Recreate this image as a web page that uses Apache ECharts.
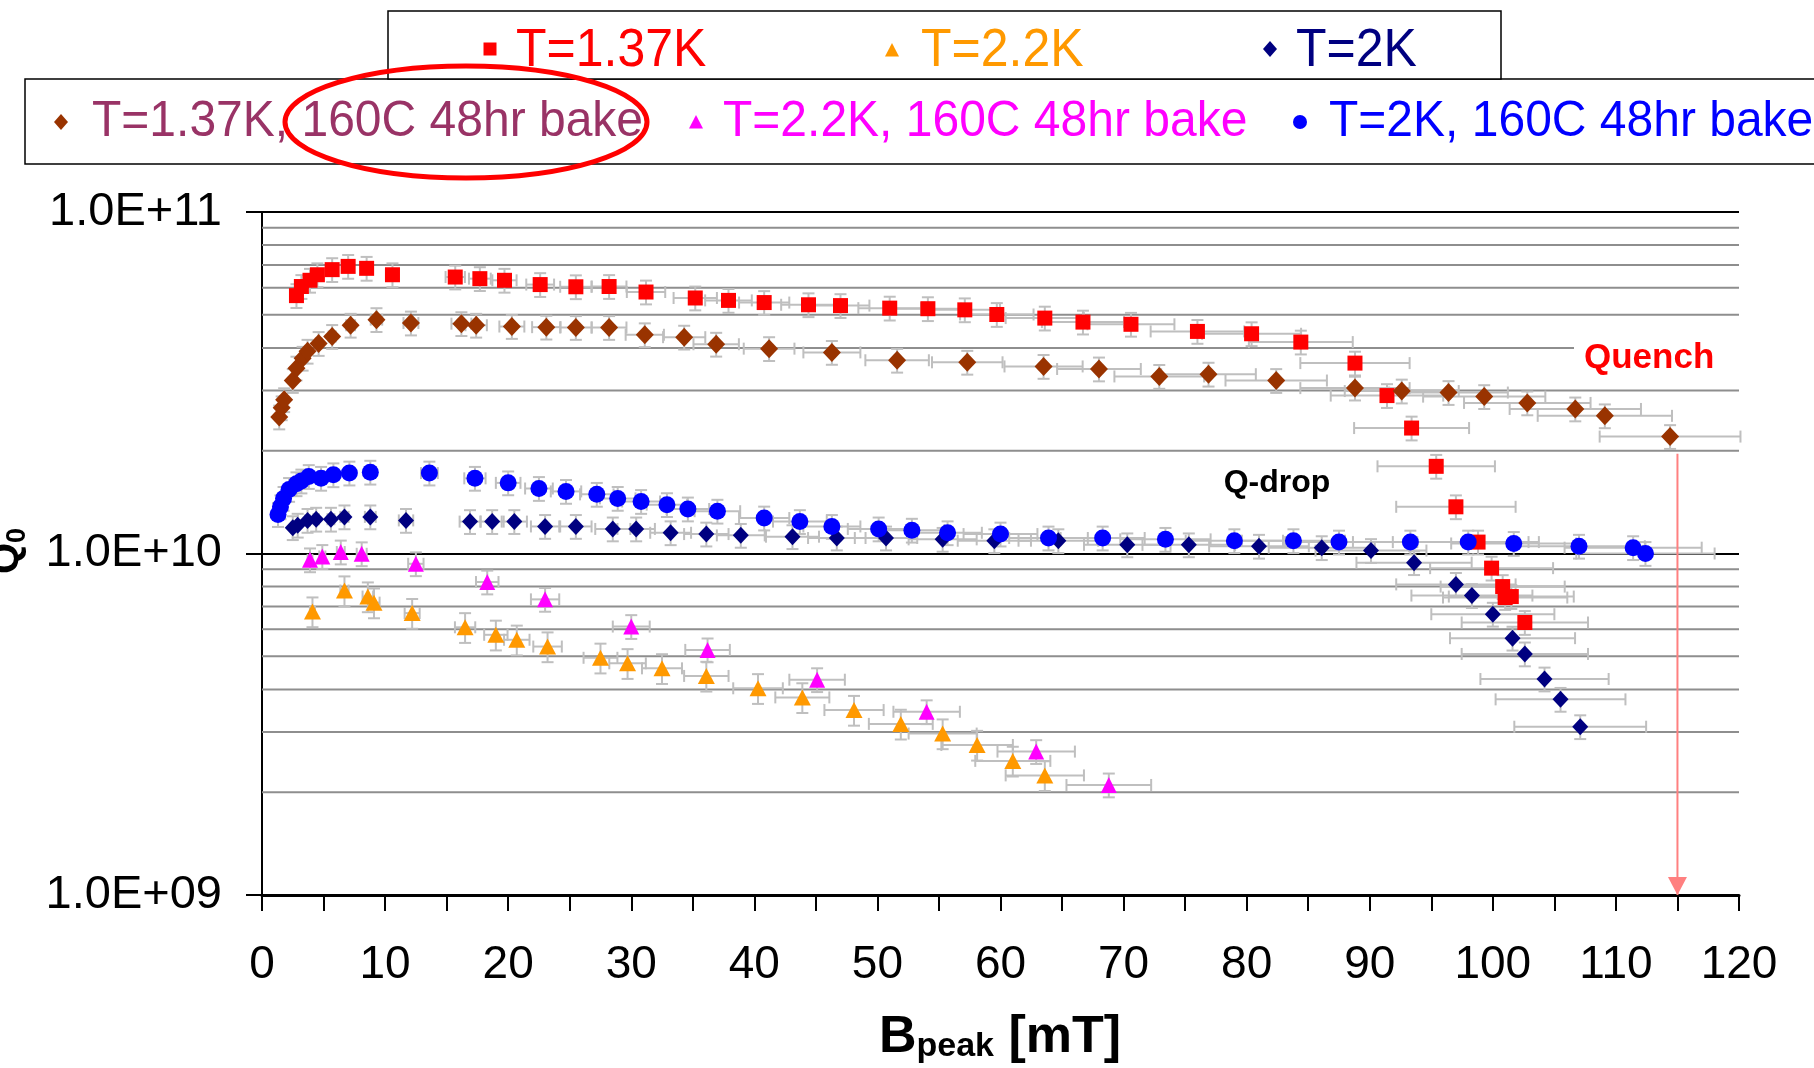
<!DOCTYPE html>
<html>
<head>
<meta charset="utf-8">
<script src="https://cdn.jsdelivr.net/npm/echarts@6/dist/echarts.min.js"></script>
<style>
html,body{margin:0;padding:0;background:#ffffff;}
#chart{width:1814px;height:1068px;}
</style>
</head>
<body>
<div id="chart"></div>
<script>
// ---------------- data ----------------
const xTickLabels = ['0','10','20','30','40','50','60','70','80','90','100','110','120'];
const yTickLabels = ['1.0E+09','1.0E+10','1.0E+11'];

// T=1.37K
const bT137 = [2.8,3.2,3.9,4.5,5.7,7.0,8.5,10.6,15.7,17.7,19.7,22.6,25.5,28.2,31.2,35.2,37.9,40.8,44.4,47.0,51.0,54.1,57.1,59.7,63.6,66.7,70.6,76.0,80.4,84.4,88.8,91.4,93.4,95.4,97.0,98.8,99.9,100.8,101.0,101.5,102.6];
const qT137 = [5.69e10,6.05e10,6.31e10,6.55e10,6.78e10,6.93e10,6.84e10,6.55e10,6.45e10,6.38e10,6.31e10,6.13e10,6.04e10,6.05e10,5.83e10,5.60e10,5.51e10,5.43e10,5.35e10,5.32e10,5.23e10,5.21e10,5.17e10,5.01e10,4.89e10,4.76e10,4.69e10,4.47e10,4.40e10,4.16e10,3.61e10,2.90e10,2.33e10,1.80e10,1.37e10,1.08e10,9.06e9,8.00e9,7.43e9,7.48e9,6.28e9];

// T=2.2K
const bT22 = [4.1,6.7,8.6,9.1,12.2,16.5,19.0,20.7,23.2,27.5,29.7,32.5,36.1,40.3,43.9,48.1,51.9,55.3,58.1,61.0,63.6];
const qT22 = [6.76e9,7.79e9,7.48e9,7.18e9,6.69e9,6.08e9,5.78e9,5.59e9,5.34e9,4.95e9,4.77e9,4.61e9,4.38e9,4.03e9,3.79e9,3.48e9,3.17e9,2.97e9,2.75e9,2.47e9,2.24e9];

// T=2K
const bT2 = [2.5,2.9,3.7,4.4,5.6,6.7,8.8,11.7,16.9,18.7,20.5,23.0,25.5,28.5,30.4,33.2,36.1,38.9,43.1,46.7,50.7,55.3,59.5,64.7,70.3,75.3,81.0,86.1,90.1,93.6,97.0,98.3,100.0,101.6,102.6,104.2,105.5,107.1];
const qT2 = [1.19e10,1.21e10,1.25e10,1.26e10,1.26e10,1.28e10,1.28e10,1.25e10,1.24e10,1.24e10,1.24e10,1.20e10,1.20e10,1.18e10,1.18e10,1.15e10,1.14e10,1.13e10,1.12e10,1.11e10,1.11e10,1.10e10,1.09e10,1.09e10,1.06e10,1.06e10,1.05e10,1.04e10,1.02e10,9.40e9,8.12e9,7.53e9,6.64e9,5.65e9,5.08e9,4.29e9,3.74e9,3.11e9];

// T=1.37K, 160C 48hr bake
const bT137b = [1.4,1.6,1.8,2.5,2.8,3.3,3.7,4.6,5.7,7.2,9.3,12.1,16.2,17.4,20.3,23.1,25.5,28.2,31.1,34.3,36.9,41.2,46.3,51.6,57.3,63.5,68.0,72.9,76.9,82.4,88.8,92.6,96.4,99.3,102.8,106.7,109.1,114.4];
const qT137b = [2.51e10,2.67e10,2.82e10,3.21e10,3.49e10,3.73e10,3.91e10,4.12e10,4.32e10,4.66e10,4.84e10,4.73e10,4.71e10,4.66e10,4.62e10,4.60e10,4.59e10,4.59e10,4.37e10,4.30e10,4.10e10,3.98e10,3.88e10,3.68e10,3.63e10,3.53e10,3.47e10,3.30e10,3.35e10,3.21e10,3.05e10,2.99e10,2.96e10,2.88e10,2.76e10,2.65e10,2.53e10,2.20e10];

// T=2.2K, 160C 48hr bake
const bT22b = [3.9,4.9,6.4,8.1,12.5,18.3,23.0,30.0,36.2,45.1,54.0,62.9,68.8];
const qT22b = [9.58e9,9.80e9,1.01e10,9.98e9,9.33e9,8.25e9,7.34e9,6.11e9,5.22e9,4.27e9,3.44e9,2.63e9,2.10e9];

// T=2K, 160C 48hr bake
const bT2b = [1.3,1.5,1.75,2.2,2.8,3.2,3.8,4.8,5.8,7.1,8.8,13.6,17.3,20.0,22.5,24.7,27.2,28.9,30.8,32.9,34.6,37.0,40.8,43.7,46.3,50.1,52.8,55.7,60.0,63.9,68.3,73.4,79.0,83.8,87.5,93.3,98.0,101.7,107.0,111.4,112.4];
const qT2b = [1.30e10,1.37e10,1.45e10,1.54e10,1.60e10,1.63e10,1.68e10,1.66e10,1.70e10,1.72e10,1.73e10,1.72e10,1.66e10,1.61e10,1.55e10,1.52e10,1.49e10,1.45e10,1.42e10,1.39e10,1.35e10,1.33e10,1.27e10,1.24e10,1.20e10,1.18e10,1.17e10,1.15e10,1.14e10,1.11e10,1.11e10,1.10e10,1.09e10,1.09e10,1.08e10,1.08e10,1.08e10,1.07e10,1.05e10,1.04e10,1.00e10];

// relative error bars
const X_ERR = 0.05;
const yErrT137 = 0.08, yErrT22 = 0.10, yErrT2 = 0.08, yErrT137b = 0.08, yErrT22b = 0.08, yErrT2b = 0.08;

// quench arrow (B = 115 mT), from Q = 1.96e10 down to the axis
const arrowB = [115, 115];
const arrowQ = [1.96e10, 1.0e9];

// minor horizontal gridlines
const minorGrid = [2e9,3e9,4e9,5e9,6e9,7e9,8e9,9e9,2e10,3e10,4e10,5e10,6e10,7e10,8e10,9e10];

// ---------------- styling / layout ----------------
const FONT = '"Liberation Sans", Arial, Helvetica, sans-serif';
const ERR_COLOR = '#BFBFBF';

const defs = [
  {name:'T=1.37K', b:bT137, q:qT137, yErr:yErrT137, color:'#FF0000', text:'#FF0000', symbol:'rect', size:[15,15]},
  {name:'T=2.2K', b:bT22, q:qT22, yErr:yErrT22, color:'#FF9900', text:'#FF9900', symbol:'triangle', size:[17,16]},
  {name:'T=2K', b:bT2, q:qT2, yErr:yErrT2, color:'#000080', text:'#000080', symbol:'diamond', size:[16,17]},
  {name:'T=1.37K, 160C 48hr bake', b:bT137b, q:qT137b, yErr:yErrT137b, color:'#993300', text:'#993366', symbol:'diamond', size:[18,19]},
  {name:'T=2.2K, 160C 48hr bake', b:bT22b, q:qT22b, yErr:yErrT22b, color:'#FF00FF', text:'#FF00FF', symbol:'triangle', size:[16,16]},
  {name:'T=2K, 160C 48hr bake', b:bT2b, q:qT2b, yErr:yErrT2b, color:'#0000FF', text:'#0000FF', symbol:'circle', size:[17,17]}
];

// legend layout: [markerX, markerY, textX, textY, fontSize]
const legendPos = [
  [490, 49, 516, 51, 50],
  [892, 50, 921, 51, 50],
  [1270, 49, 1296, 51, 50],
  [61, 122, 92, 122, 48],
  [696, 122, 723, 122, 48],
  [1300, 122, 1329, 122, 48]
];

function errRenderer(yErr) {
  return function (params, api) {
    const x = api.value(0), y = api.value(1);
    const dx = x * X_ERR;
    const l = api.coord([x - dx, y]);
    const r = api.coord([x + dx, y]);
    const t = api.coord([x, y * (1 + yErr)]);
    const b = api.coord([x, y * (1 - yErr)]);
    const st = {stroke: ERR_COLOR, lineWidth: 2};
    const cap = 6;
    return {
      type: 'group',
      children: [
        {type:'line', shape:{x1:l[0], y1:l[1], x2:r[0], y2:r[1]}, style:st},
        {type:'line', shape:{x1:l[0], y1:l[1]-cap, x2:l[0], y2:l[1]+cap}, style:st},
        {type:'line', shape:{x1:r[0], y1:r[1]-cap, x2:r[0], y2:r[1]+cap}, style:st},
        {type:'line', shape:{x1:t[0], y1:t[1], x2:b[0], y2:b[1]}, style:st},
        {type:'line', shape:{x1:t[0]-cap, y1:t[1], x2:t[0]+cap, y2:t[1]}, style:st},
        {type:'line', shape:{x1:b[0]-cap, y1:b[1], x2:b[0]+cap, y2:b[1]}, style:st}
      ]
    };
  };
}

function legendMarker(d, cx, cy) {
  const fill = {fill: d.color};
  if (d.symbol === 'rect') return {type:'rect', shape:{x:cx-6.5, y:cy-6.5, width:13, height:13}, style:fill};
  if (d.symbol === 'circle') return {type:'circle', shape:{cx:cx, cy:cy, r:7}, style:fill};
  if (d.symbol === 'triangle') return {type:'polygon', shape:{points:[[cx,cy-7],[cx+7,cy+6.5],[cx-7,cy+6.5]]}, style:fill};
  return {type:'polygon', shape:{points:[[cx,cy-8],[cx+7,cy],[cx,cy+8],[cx-7,cy]]}, style:fill};
}

const series = [];
// minor gridlines
series.push({
  type: 'custom', name: 'minor-grid', silent: true, z: 1,
  data: minorGrid.map(v => [0, v]),
  encode: {x: 0, y: 1},
  renderItem: function (params, api) {
    const y = api.coord([0, api.value(1)])[1];
    const cs = params.coordSys;
    return {type:'line', shape:{x1:cs.x, y1:y, x2:cs.x + cs.width, y2:y}, style:{stroke:'#8E8E8E', lineWidth:2}};
  }
});
defs.forEach(d => {
  const data = d.b.map((b, i) => [b, d.q[i]]);
  series.push({
    type: 'custom', name: d.name + ' err', silent: true, z: 2, clip: false,
    data: data, encode: {x: 0, y: 1},
    renderItem: errRenderer(d.yErr)
  });
  series.push({
    type: 'scatter', name: d.name, silent: true, z: 2,
    data: data, symbol: d.symbol, symbolSize: d.size,
    itemStyle: {color: d.color, opacity: 1}
  });
});
// quench arrow
series.push({
  type: 'line', name: 'quench-arrow', silent: true, z: 3, clip: false,
  data: [
    {value: [arrowB[0], arrowQ[0]], symbol: 'none'},
    {value: [arrowB[1], arrowQ[1]], symbol: 'triangle', symbolSize: [19, 18], symbolRotate: 180, symbolOffset: [0, -9]}
  ],
  showSymbol: true,
  lineStyle: {color: '#FF8080', width: 2},
  itemStyle: {color: '#FF8080'}
});

const graphic = [];
// legend boxes
graphic.push({type:'rect', shape:{x:25, y:79, width:1800, height:85}, style:{fill:'#fff', stroke:'#000', lineWidth:1.5}, z:100});
graphic.push({type:'rect', shape:{x:388, y:11, width:1113, height:68}, style:{fill:'#fff', stroke:'#000', lineWidth:1.5}, z:100});
defs.forEach((d, i) => {
  const p = legendPos[i];
  const m = legendMarker(d, p[0], p[1]);
  m.z = 101;
  graphic.push(m);
  graphic.push({type:'text', x:p[2], y:p[3], z:101, scaleY:1.06,
    style:{text:d.name, fill:d.text, font:p[4] + 'px ' + FONT, textAlign:'left', textVerticalAlign:'middle'}});
});
// red ellipse highlight
graphic.push({type:'ellipse', shape:{cx:466, cy:122, rx:181, ry:56}, style:{fill:null, stroke:'#FF0000', lineWidth:5}, z:102});
// annotations
graphic.push({type:'text', x:1574, y:358, z:50,
  style:{text:'Quench', fill:'#FF0000', font:'bold 35px ' + FONT, textAlign:'left', textVerticalAlign:'middle',
    backgroundColor:'#ffffff', padding:[8, 26, 8, 10]}});
graphic.push({type:'text', x:1277, y:483, z:50,
  style:{text:'Q-drop', fill:'#000000', font:'bold 32px ' + FONT, textAlign:'center', textVerticalAlign:'middle'}});
// axis titles
graphic.push({type:'text', x:1000, y:1012, z:50,
  style:{text:'{b|B}{s|peak}{b| [mT]}', textAlign:'center', textVerticalAlign:'top',
    rich:{
      b:{font:'bold 52px ' + FONT, fill:'#000', lineHeight:52, verticalAlign:'top'},
      s:{font:'bold 34px ' + FONT, fill:'#000', lineHeight:34, verticalAlign:'top', padding:[18,0,0,0]}
    }}});
graphic.push({type:'text', x:-13, y:551, rotation:Math.PI/2, z:50,
  style:{text:'{q|Q}{s|0}', textAlign:'center', textVerticalAlign:'top',
    rich:{
      q:{font:'bold 40px ' + FONT, fill:'#000', lineHeight:40, verticalAlign:'top'},
      s:{font:'bold 27px ' + FONT, fill:'#000', lineHeight:27, verticalAlign:'top', padding:[17,0,0,0]}
    }}});

const option = {
  animation: false,
  backgroundColor: '#ffffff',
  grid: {left: 262, right: 75, top: 212, bottom: 173, containLabel: false, outerBoundsMode: 'none'},
  xAxis: {
    type: 'value', min: 0, max: 120, interval: 10,
    axisLine: {show: true, onZero: false, lineStyle: {color: '#000', width: 3}},
    axisTick: {show: true, inside: false, length: 16, lineStyle: {color: '#000', width: 2}},
    minorTick: {show: true, splitNumber: 2, length: 16, lineStyle: {color: '#000', width: 2}},
    splitLine: {show: false},
    axisLabel: {color: '#000', fontSize: 46, fontFamily: FONT, margin: 47,
      formatter: v => xTickLabels[Math.round(v / 10)]}
  },
  yAxis: {
    type: 'log', logBase: 10, min: 1e9, max: 1e11,
    axisLine: {show: true, lineStyle: {color: '#000', width: 2}},
    axisTick: {show: true, inside: false, length: 16, lineStyle: {color: '#000', width: 2}},
    splitLine: {show: true, lineStyle: {color: '#000', width: 2}},
    minorTick: {show: false},
    axisLabel: {color: '#000', fontSize: 47, fontFamily: FONT, margin: 40,
      formatter: v => yTickLabels[Math.round(Math.log10(v)) - 9]}
  },
  series: series,
  graphic: graphic
};

const chart = echarts.init(document.getElementById('chart'), null, {renderer: 'canvas'});
chart.setOption(option);
</script>
</body>
</html>
